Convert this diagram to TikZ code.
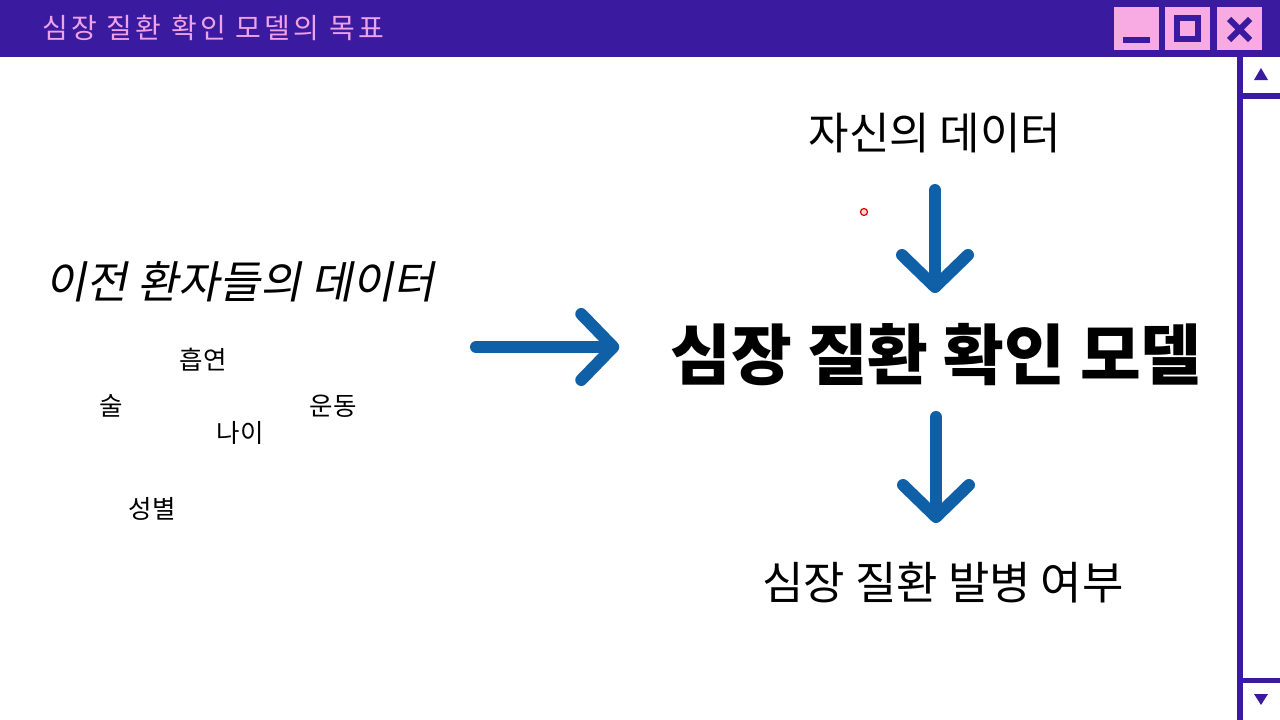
\documentclass[tikz,border=0pt]{standalone}
\usepackage{fontspec}
\usetikzlibrary{arrows.meta,calc}
\newfontfamily\kr{Noto Sans CJK KR}
\newfontfamily\krslant[FakeSlant=0.2]{Noto Sans CJK KR}
\newfontfamily\krtitle[LetterSpace=12]{Noto Sans CJK KR}
\definecolor{winpurple}{RGB}{58,27,160}
\definecolor{winpink}{RGB}{248,170,226}
\definecolor{titlepink}{RGB}{240,162,230}
\definecolor{arrowblue}{RGB}{16,96,168}
\tikzset{
	flow/.style={line width=12pt, color=arrowblue, line cap=round, -{Straight Barb[length=32pt,width=66pt,round]}},
	word/.style={inner sep=0, font=\kr\fontsize{25.5}{30}\selectfont},
	winbox/.style={fill=winpink}
}

\begin{document}
\begin{tikzpicture}[x=1pt, y=-1pt]
			%%%%% START %%%%%
			\useasboundingbox[fill=white] (0, 0) rectangle (1280, 720);
			
			\fill[winpurple] (0, 0) rectangle (1280, 57);
			\node[anchor=west, inner sep=0, text=titlepink, font=\krtitle\fontsize{28}{32}\selectfont] (title) at (42, 28) {심장 질환 확인 모델의 목표};
			
			\foreach \x in {1114, 1165, 1217}
				\fill[winbox] (\x, 7) rectangle ++(45, 43);
			\fill[winpurple] (1123, 37) rectangle (1150, 43);
			\draw[line width=6pt, color=winpurple] (1177, 18) rectangle (1198, 39);
			\draw[line width=6pt, color=winpurple] (1229, 19) -- (1250, 40) (1229, 40) -- (1250, 19);
			
			\fill[winpurple] (1237, 57) rectangle (1243, 720);
			\fill[winpurple] (1243, 93) rectangle (1280, 99);
			\fill[winpurple] (1243, 678) rectangle (1280, 683);
			\fill[winpurple] (1254, 80) -- (1261, 68) -- (1268, 80) -- cycle;
			\fill[winpurple] (1254, 694) -- (1261, 705) -- (1268, 694) -- cycle;
			
			\node[inner sep=0, font=\krslant\fontsize{44.5}{52}\selectfont] (past) at (240, 282) {이전 환자들의 데이터};
			\node[word] (smoke) at (203, 360) {흡연};
			\node[word] (drink) at (111, 406) {술};
			\node[word] (sport) at (333, 406) {운동};
			\node[word] (age) at (240, 433) {나이};
			\node[word] (sex) at (152, 509) {성별};
			
			\node[inner sep=0, font=\kr\fontsize{44}{52}\selectfont] (mine) at (935, 133) {자신의 데이터};
			\node[inner sep=0, font=\kr\bfseries\fontsize{66}{76}\selectfont] (model) at (936, 355) {심장 질환 확인 모델};
			\node[inner sep=0, font=\kr\fontsize{45}{54}\selectfont] (result) at (943, 583) {심장 질환 발병 여부};
			
			\coordinate (feed) at (476, 347);
			\draw[flow, shorten >=51pt] (feed) -- (feed -| model.west);
			\draw[flow, shorten <=57pt, shorten >=62pt] (mine.center) -- (mine.center |- model.center);
			\draw[flow, shorten <=62pt, shorten >=60pt] (model.center) -- (model.center |- result.center);
			
			\draw[line width=1.2pt, color=red!85!black, fill=red!15] (864, 212) circle (3.5);
			%%%%% END %%%%%
		\end{tikzpicture}
\end{document}
